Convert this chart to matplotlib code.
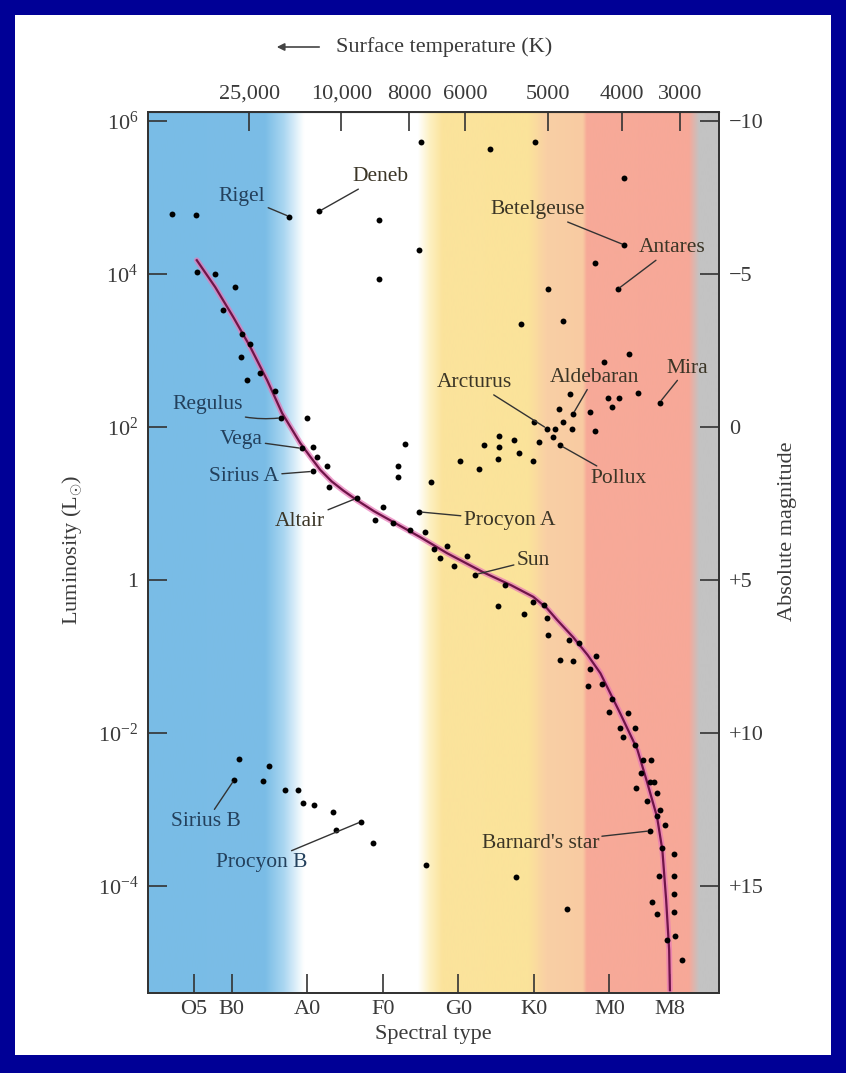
import numpy as np
import matplotlib
matplotlib.use('Agg')
import matplotlib.pyplot as plt
from matplotlib.patches import Rectangle, FancyArrowPatch

plt.rcParams['font.family'] = ['Liberation Serif', 'DejaVu Serif']
plt.rcParams['mathtext.fontset'] = 'custom'
plt.rcParams['mathtext.rm'] = 'Liberation Serif'
plt.rcParams['mathtext.it'] = 'Liberation Serif:italic'

# x = spectral position (O0=0, B0=10, A0=20, F0=30, G0=40, K0=50, M0=60)
# y = log10 of luminosity in solar units
spec_ticks = [5, 10, 20, 30, 40, 50, 60, 68]
spec_labels = ['O5', 'B0', 'A0', 'F0', 'G0', 'K0', 'M0', 'M8']
temp_ticks = [12.3, 24.5, 33.5, 40.9, 51.8, 61.6, 69.4]
temp_labels = ['25,000', '10,000', '8000', '6000', '5000', '4000', '3000']
lum_ticks = [6, 4, 2, 0, -2, -4]
lum_labels = [r'$\mathregular{10^{6}}$', r'$\mathregular{10^{4}}$', r'$\mathregular{10^{2}}$',
              '1', r'$\mathregular{10^{-2}}$', r'$\mathregular{10^{-4}}$']
mag_ticks = [-10, -5, 0, 5, 10, 15]
mag_labels = ['\u221210', '\u22125', '0', '+5', '+10', '+15']

# giants and supergiants
giant_x = [35.03, 2.05, 5.27, 17.63, 21.56, 29.47, 34.72, 29.47, 44.21, 50.08, 61.96, 61.96,
           58.03, 51.85, 61.07, 48.28, 53.84, 62.53, 59.31, 54.81, 59.75, 61.21, 63.72, 66.64,
           53.26, 60.33, 57.46, 55.17, 49.95, 53.84, 51.72, 52.82, 55.03, 58.12, 52.52, 50.61,
           53.48, 47.30, 45.31, 45.31, 43.33, 45.18, 47.96, 49.87, 40.24, 42.79, 36.36, 32.95,
           31.99, 31.99]
giant_logL = [5.73, 4.78, 4.77, 4.75, 4.82, 4.70, 4.32, 3.94, 5.64, 5.72, 5.26, 4.38,
              4.15, 3.81, 3.80, 3.35, 3.39, 2.95, 2.85, 2.43, 2.38, 2.38, 2.45, 2.32,
              2.24, 2.26, 2.20, 2.17, 2.07, 2.07, 1.98, 1.98, 1.98, 1.95, 1.87, 1.80,
              1.76, 1.83, 1.88, 1.74, 1.76, 1.58, 1.66, 1.56, 1.55, 1.45, 1.28, 1.78,
              1.49, 1.34]

# main sequence stars
ms_x = [5.36, 7.79, 10.44, 8.89, 11.32, 12.42, 11.19, 13.75, 11.99, 15.74, 16.53, 19.93,
        19.27, 20.81, 21.26, 22.58, 20.73, 22.85, 26.56, 34.81, 30.08, 28.98, 31.40, 35.60,
        33.62, 36.70, 37.50, 38.48, 41.13, 39.48, 42.25, 46.20, 45.23, 48.62, 49.87, 51.27,
        51.72, 51.85, 54.58, 55.91, 53.48, 55.17, 58.25, 57.46, 57.10, 59.01, 60.33, 59.88,
        62.40, 61.43, 63.42, 61.79, 63.42, 64.44, 65.50, 64.17, 65.31, 65.84, 63.55, 66.29,
        64.97, 66.64, 66.29, 67.39, 65.40, 66.95, 68.49, 66.56, 68.49, 68.49, 65.63, 66.33,
        68.49, 68.71, 67.63, 69.56, 35.68, 47.58, 54.38]
ms_logL = [4.03, 4.00, 3.83, 3.53, 3.22, 3.08, 2.92, 2.71, 2.62, 2.47, 2.12, 2.12,
           1.72, 1.74, 1.61, 1.49, 1.42, 1.21, 1.07, 0.89, 0.95, 0.78, 0.75, 0.63,
           0.65, 0.40, 0.29, 0.44, 0.31, 0.18, 0.07, -0.06, -0.34, -0.44, -0.29, -0.33,
           -0.50, -0.72, -0.78, -0.83, -1.04, -1.06, -0.99, -1.16, -1.38, -1.36, -1.55, -1.72,
           -1.74, -1.93, -1.93, -2.05, -2.16, -2.35, -2.35, -2.53, -2.64, -2.64, -2.72, -2.79,
           -2.89, -3.01, -3.09, -3.20, -3.28, -3.51, -3.58, -3.87, -3.87, -4.10, -4.21, -4.37,
           -4.34, -4.65, -4.71, -4.97, -3.73, -3.88, -4.30]

# white dwarfs
wd_x = [11.01, 14.98, 10.34, 14.11, 17.06, 18.74, 19.40, 20.94, 23.46, 27.13, 23.77, 28.75]
wd_logL = [-2.34, -2.43, -2.61, -2.63, -2.75, -2.74, -2.91, -2.94, -3.04, -3.16, -3.27, -3.44]

# main sequence line
line_x = [5.36, 7.79, 10.17, 12.42, 14.68, 16.66, 19.05, 20.40, 21.70, 23.20, 24.74, 26.60,
          28.80, 30.97, 34.94, 38.50, 43.30, 47.00, 49.90, 51.72, 53.04, 55.20, 57.10, 58.80,
          61.40, 63.70, 65.00, 66.30, 67.00, 67.50, 67.90, 68.00]
line_logL = [4.18, 3.83, 3.44, 3.05, 2.61, 2.18, 1.79, 1.61, 1.44, 1.29, 1.17, 1.04,
             0.90, 0.78, 0.56, 0.35, 0.10, -0.07, -0.22, -0.37, -0.52, -0.75, -0.98, -1.22,
             -1.74, -2.22, -2.65, -3.10, -3.53, -4.18, -4.84, -5.36]

# named stars: name, star x, star logL, label x, label logL
names = ['Rigel', 'Deneb', 'Regulus', 'Vega', 'Sirius A', 'Altair', 'Procyon A', 'Sun',
         'Sirius B', 'Procyon B', "Barnard's star", 'Betelgeuse', 'Antares', 'Arcturus',
         'Aldebaran', 'Mira', 'Pollux']
name_x = [17.63, 21.56, 16.53, 19.27, 20.73, 26.56, 34.81, 42.25, 10.34, 27.13, 65.40,
          61.96, 61.07, 51.72, 55.17, 66.64, 53.48]
name_logL = [4.75, 4.82, 2.12, 1.72, 1.42, 1.07, 0.89, 0.07, -2.61, -3.16, -3.28,
             4.38, 3.80, 1.98, 2.17, 2.32, 1.76]
label_x = [11.36, 29.63, 6.86, 11.23, 11.63, 19.05, 46.74, 49.91, 6.6, 14.0, 50.85,
           50.45, 68.3, 42.1, 58.0, 70.3, 61.2]
label_logL = [5.01, 5.27, 2.29, 1.83, 1.35, 0.77, 0.78, 0.26, -3.16, -3.70, -3.44,
              4.84, 4.34, 2.58, 2.65, 2.77, 1.33]
blue_names = {'Rigel', 'Regulus', 'Vega', 'Sirius A', 'Sirius B', 'Procyon B'}

xmin, xmax = -1.1, 74.5
ymin, ymax = -5.40, 6.118

fig = plt.figure(figsize=(8.46, 10.73), dpi=100)
fig.patch.set_facecolor('#000096')
fig.add_artist(Rectangle((15 / 846, 1 - 1055 / 1073), 816 / 846, 1040 / 1073,
                         transform=fig.transFigure, facecolor='white', edgecolor='none', zorder=-10))

rect = [148 / 846, 1 - 993 / 1073, 571 / 846, 881 / 1073]

# colour bands behind the chart
bg = fig.add_axes(rect, zorder=0)
stops = [(xmin, '#79bce6'), (14.4, '#7bbde6'), (16.8, '#a9d6f1'), (19.5, '#ffffff'),
         (34.6, '#ffffff'), (36.2, '#fdf0c0'), (37.8, '#fbe39c'), (49.2, '#fbe39a'),
         (51.6, '#f9cfa5'), (56.4, '#f8cba2'), (56.9, '#f7aa98'), (70.4, '#f7a898'),
         (71.8, '#c3c3c3'), (xmax, '#c3c3c3')]
su = [s[0] for s in stops]
sc = np.array([matplotlib.colors.to_rgb(s[1]) for s in stops])
grid = np.linspace(xmin, xmax, 1200)
img = np.stack([np.interp(grid, su, sc[:, k]) for k in range(3)], axis=-1)[None, :, :]
bg.imshow(img, extent=[0, 1, 0, 1], aspect='auto', interpolation='bilinear')
bg.set_axis_off()

ax = fig.add_axes(rect, zorder=1)
ax.set_facecolor('none')
ax.set_yscale('log')

ax.plot(line_x, 10 ** np.array(line_logL), color='#e878b8', lw=4.2, alpha=0.7,
        solid_capstyle='round', solid_joinstyle='round', zorder=2)
ax.plot(line_x, 10 ** np.array(line_logL), color='#701448', lw=1.6,
        solid_joinstyle='round', zorder=3)

for xs, ys in [(giant_x, giant_logL), (ms_x, ms_logL), (wd_x, wd_logL)]:
    ax.scatter(xs, 10 ** np.array(ys), s=18, color='black', zorder=4, linewidths=0)

for n, sx, sy, tx, ty in zip(names, name_x, name_logL, label_x, label_logL):
    col = '#23405c' if n in blue_names else '#3b3526'
    cs = 'arc3,rad=0.15' if n == 'Regulus' else 'arc3'
    ax.annotate(n, xy=(sx, 10 ** sy), xytext=(tx, 10 ** ty), ha='center', va='center',
                fontsize=15.5, color=col, zorder=5,
                arrowprops=dict(arrowstyle='-', color='#333333', lw=1.0,
                                shrinkA=0, shrinkB=2, connectionstyle=cs))

ax.set_xlim(xmin, xmax)
ax.set_ylim(10 ** ymin, 10 ** ymax)
ax.set_xticks(spec_ticks, spec_labels)
ax.set_yticks([10.0 ** t for t in lum_ticks], lum_labels)
ax.minorticks_off()
tick_style = dict(direction='in', length=14, width=1.2, color='#333333',
                  labelsize=16, labelcolor='#3a3a3a')
ax.tick_params(pad=7, **tick_style)
ax.tick_params(axis='x', pad=5)
for s in ax.spines.values():
    s.set_linewidth(1.3)
    s.set_color('#333333')

top = ax.secondary_xaxis('top')
top.set_xticks(temp_ticks, temp_labels)
top.tick_params(pad=6, **tick_style)

# absolute magnitude on the right, M = 5 - 2.5 log10(L)
right = ax.twinx()
right.set_yscale('log')
right.set_ylim(ax.get_ylim())
right.set_yticks([10 ** ((5 - m) / 2.5) for m in mag_ticks], mag_labels)
right.minorticks_off()
right.tick_params(pad=7, **tick_style)
for s in right.spines.values():
    s.set_linewidth(1.3)
    s.set_color('#333333')

fig.text(433 / 846, 1 - 1034 / 1073, 'Spectral type', ha='center', va='center',
         fontsize=16, color='#3a3a3a')
fig.text(72 / 846, 1 - 550 / 1073, r'Luminosity (L$_{\odot}$)', ha='center', va='center',
         rotation=90, fontsize=16, color='#3a3a3a')
fig.text(787 / 846, 1 - 531 / 1073, 'Absolute magnitude', ha='center', va='center',
         rotation=90, fontsize=16, color='#3a3a3a')
fig.text(336 / 846, 1 - 47 / 1073, 'Surface temperature (K)', ha='left', va='center',
         fontsize=16, color='#3a3a3a')
fig.add_artist(FancyArrowPatch(
    (322 / 846, 1 - 47 / 1073), (274 / 846, 1 - 47 / 1073), transform=fig.transFigure,
    arrowstyle='-|>', mutation_scale=11, lw=1.2, color='#444444'))

fig.savefig('out.png', dpi=100, facecolor=fig.get_facecolor())
